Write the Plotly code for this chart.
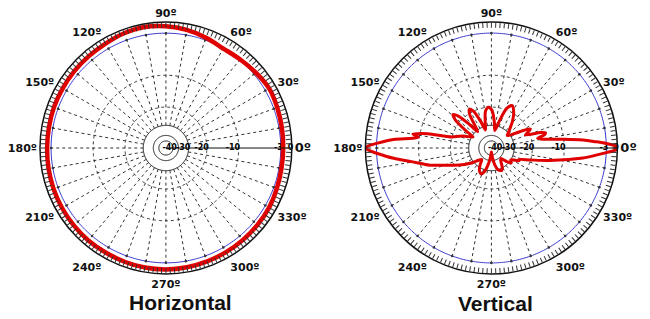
import numpy as np
import plotly.graph_objects as go

# ---- radial scale (dB -> fraction of radius)
DB_LEVELS = [0, -3, -10, -20, -30, -40, -50, -60]
R_FRAC = [1.0, 0.912, 0.578, 0.325, 0.18, 0.10, 0.056, 0.031]

# ---- Horizontal pattern (dB)
h_angles = [0, 10, 20, 30, 40, 50, 60, 70, 80, 90, 100, 110, 120, 130, 140, 150, 160, 170,
            180, 190, 200, 210, 220, 230, 240, 250, 260, 270, 280, 290, 300, 310, 320, 330, 340, 350]
h_db = [-2.3, -2.2, -2.0, -1.8, -2.3, -2.8, -3.0, -2.3, -1.6, -1.1, -0.8, -1.0, -1.4, -1.6, -1.7,
        -1.8, -1.8, -1.9, -1.9, -1.8, -1.7, -1.6, -1.5, -1.4, -1.4, -1.3, -1.2, -1.2, -1.3, -1.4,
        -1.5, -1.6, -1.7, -1.8, -2.1, -2.3]

# ---- Vertical pattern (dB)
v_angles = [0, 1, 2.3, 3.5, 5, 7, 9.5, 12, 14, 15.7, 17.5, 21, 24, 26, 28, 32, 38, 45, 52, 58, 64,
            69, 74, 79, 84, 89, 94, 99, 104, 108, 112, 116, 119.5, 123, 127, 130, 133, 136, 139,
            142, 146, 149, 155.6, 160, 164.5, 167.4, 169, 170, 171.5, 173, 175, 177.7, 179, 180,
            181, 182.6, 186, 190, 195.5, 199.4, 208, 215, 222, 230, 236, 242, 249, 254, 259, 264,
            268, 270, 272, 276, 281, 287, 295, 300, 306, 312, 318, 323, 329, 333, 335, 337, 343,
            348, 353.8, 357.7, 359, 360]
v_db = [0, -0.6, -3, -4.5, -6.4, -10, -15.5, -17.5, -15, -14.5, -16, -22, -20, -19, -21, -27, -32,
        -28, -23, -19.5, -17.5, -19.5, -27, -34, -27, -21.5, -20, -21.5, -28, -33, -26, -20, -18.5,
        -20.5, -28, -31, -24, -18, -16.2, -18, -25, -31, -26, -23, -20, -12, -9.5, -8.6, -9.8,
        -8.7, -5.4, -3, -0.8, 0, -0.8, -3, -5.4, -8.6, -12.2, -16, -22, -27, -33, -37, -32, -28,
        -26.5, -29, -35, -45, -55, -60, -55, -45, -35, -30, -28.5, -31, -36, -38, -32, -28.5, -30,
        -27, -25, -25.5, -20, -13.5, -6.4, -3, -0.6, 0]

# ---- axis labels
angle_label_vals = [0, 30, 60, 90, 120, 150, 180, 210, 240, 270, 300, 330]
radial_label_text = ["-40", "-30", "-20", "-10", "-3", "0"]
dashed_rings_db = [-10, -20]
solid_rings_db = [-30, -40, -50]
blue_ring_db = -3
titles = ["Horizontal", "Vertical"]

# label anchor radii (fraction of the plot radius) - layout only
RADIAL_LABEL_POS = [0.03, 0.137, 0.283, 0.532, 0.893, 0.99]


def to_r(db):
    x = np.asarray(db, dtype=float)
    xp = np.array(DB_LEVELS[::-1], dtype=float)
    fp = np.log(np.array(R_FRAC[::-1], dtype=float))
    return np.exp(np.interp(x, xp, fp))


fig = go.Figure()
ring_theta = np.arange(0, 361, 1)


def add_grid(sub):
    for d in dashed_rings_db:
        fig.add_trace(go.Scatterpolar(r=np.full(ring_theta.size, to_r(d)), theta=ring_theta,
                                      mode="lines", line=dict(color="#333333", width=1, dash="3px,3px"),
                                      subplot=sub, showlegend=False, hoverinfo="skip"))
    for d in solid_rings_db:
        fig.add_trace(go.Scatterpolar(r=np.full(ring_theta.size, to_r(d)), theta=ring_theta,
                                      mode="lines", line=dict(color="#111111", width=1),
                                      subplot=sub, showlegend=False, hoverinfo="skip"))
    fig.add_trace(go.Scatterpolar(r=np.full(ring_theta.size, to_r(blue_ring_db)), theta=ring_theta,
                                  mode="lines", line=dict(color="#3a3ad0", width=1),
                                  subplot=sub, showlegend=False, hoverinfo="skip"))
    th, rr = [], []
    r0, r1 = float(to_r(-30)), float(to_r(-3))
    for a in range(10, 360, 10):
        th += [a, a, None]
        rr += [r0, r1, None]
    fig.add_trace(go.Scatterpolar(r=rr, theta=th, mode="lines",
                                  line=dict(color="#333333", width=1, dash="3px,3px"),
                                  subplot=sub, showlegend=False, hoverinfo="skip", connectgaps=False))
    fig.add_trace(go.Scatterpolar(r=[r1] * 35, theta=list(range(10, 360, 10)), mode="markers",
                                  marker=dict(color="#333333", size=2.5),
                                  subplot=sub, showlegend=False, hoverinfo="skip"))
    fig.add_trace(go.Scatterpolar(r=RADIAL_LABEL_POS, theta=[0] * len(RADIAL_LABEL_POS),
                                  mode="text", text=["<b>%s</b>" % t for t in radial_label_text],
                                  textposition="middle center",
                                  textfont=dict(family="DejaVu Sans", size=8, color="#000000"),
                                  subplot=sub, showlegend=False, hoverinfo="skip"))


add_grid("polar")
fig.add_trace(go.Scatterpolar(r=to_r(h_db + [h_db[0]]), theta=h_angles + [360], mode="lines",
                              line=dict(color="#e00000", width=4.5, shape="spline", smoothing=1),
                              subplot="polar", showlegend=False))
add_grid("polar2")
fig.add_trace(go.Scatterpolar(r=to_r(v_db), theta=v_angles, mode="lines",
                              line=dict(color="#e00000", width=3, shape="spline", smoothing=0.8),
                              subplot="polar2", showlegend=False))

tickvals = list(range(0, 360, 2))
ticktext = []
for t in tickvals:
    if t in angle_label_vals:
        if t == 0:
            ticktext.append("<span style='font-size:13px'><b>0º</b></span>")
        else:
            ticktext.append("<b>%dº</b>" % t)
    else:
        ticktext.append("")


def polar_layout(xdom):
    return dict(
        domain=dict(x=xdom, y=[0.141, 0.931]),
        bgcolor="white",
        radialaxis=dict(range=[0, 1], showticklabels=False, ticks="", showgrid=False,
                        showline=True, linecolor="#111111", linewidth=1, angle=0),
        angularaxis=dict(tickmode="array", tickvals=tickvals, ticktext=ticktext,
                         ticks="inside", ticklen=5, tickwidth=0.8, tickcolor="#333333",
                         showgrid=False, showline=True, linecolor="#111111", linewidth=1.5,
                         direction="counterclockwise", rotation=0,
                         tickfont=dict(family="DejaVu Sans", size=11, color="#111111")),
    )


fig.update_layout(
    width=650, height=319, autosize=False,
    margin=dict(l=0, r=0, t=0, b=0),
    paper_bgcolor="white",
    polar=polar_layout([0.0615, 0.449]),
    polar2=polar_layout([0.562, 0.950]),
    annotations=[
        dict(text="<b>%s</b>" % titles[0], x=180 / 650, y=(319 - 302) / 319, xref="paper", yref="paper",
             showarrow=False, xanchor="center", yanchor="middle",
             font=dict(family="Liberation Sans", size=21, color="#111111")),
        dict(text="<b>%s</b>" % titles[1], x=495 / 650, y=(319 - 303) / 319, xref="paper", yref="paper",
             showarrow=False, xanchor="center", yanchor="middle",
             font=dict(family="Liberation Sans", size=21, color="#111111")),
    ],
)

fig.write_html("out.html")
